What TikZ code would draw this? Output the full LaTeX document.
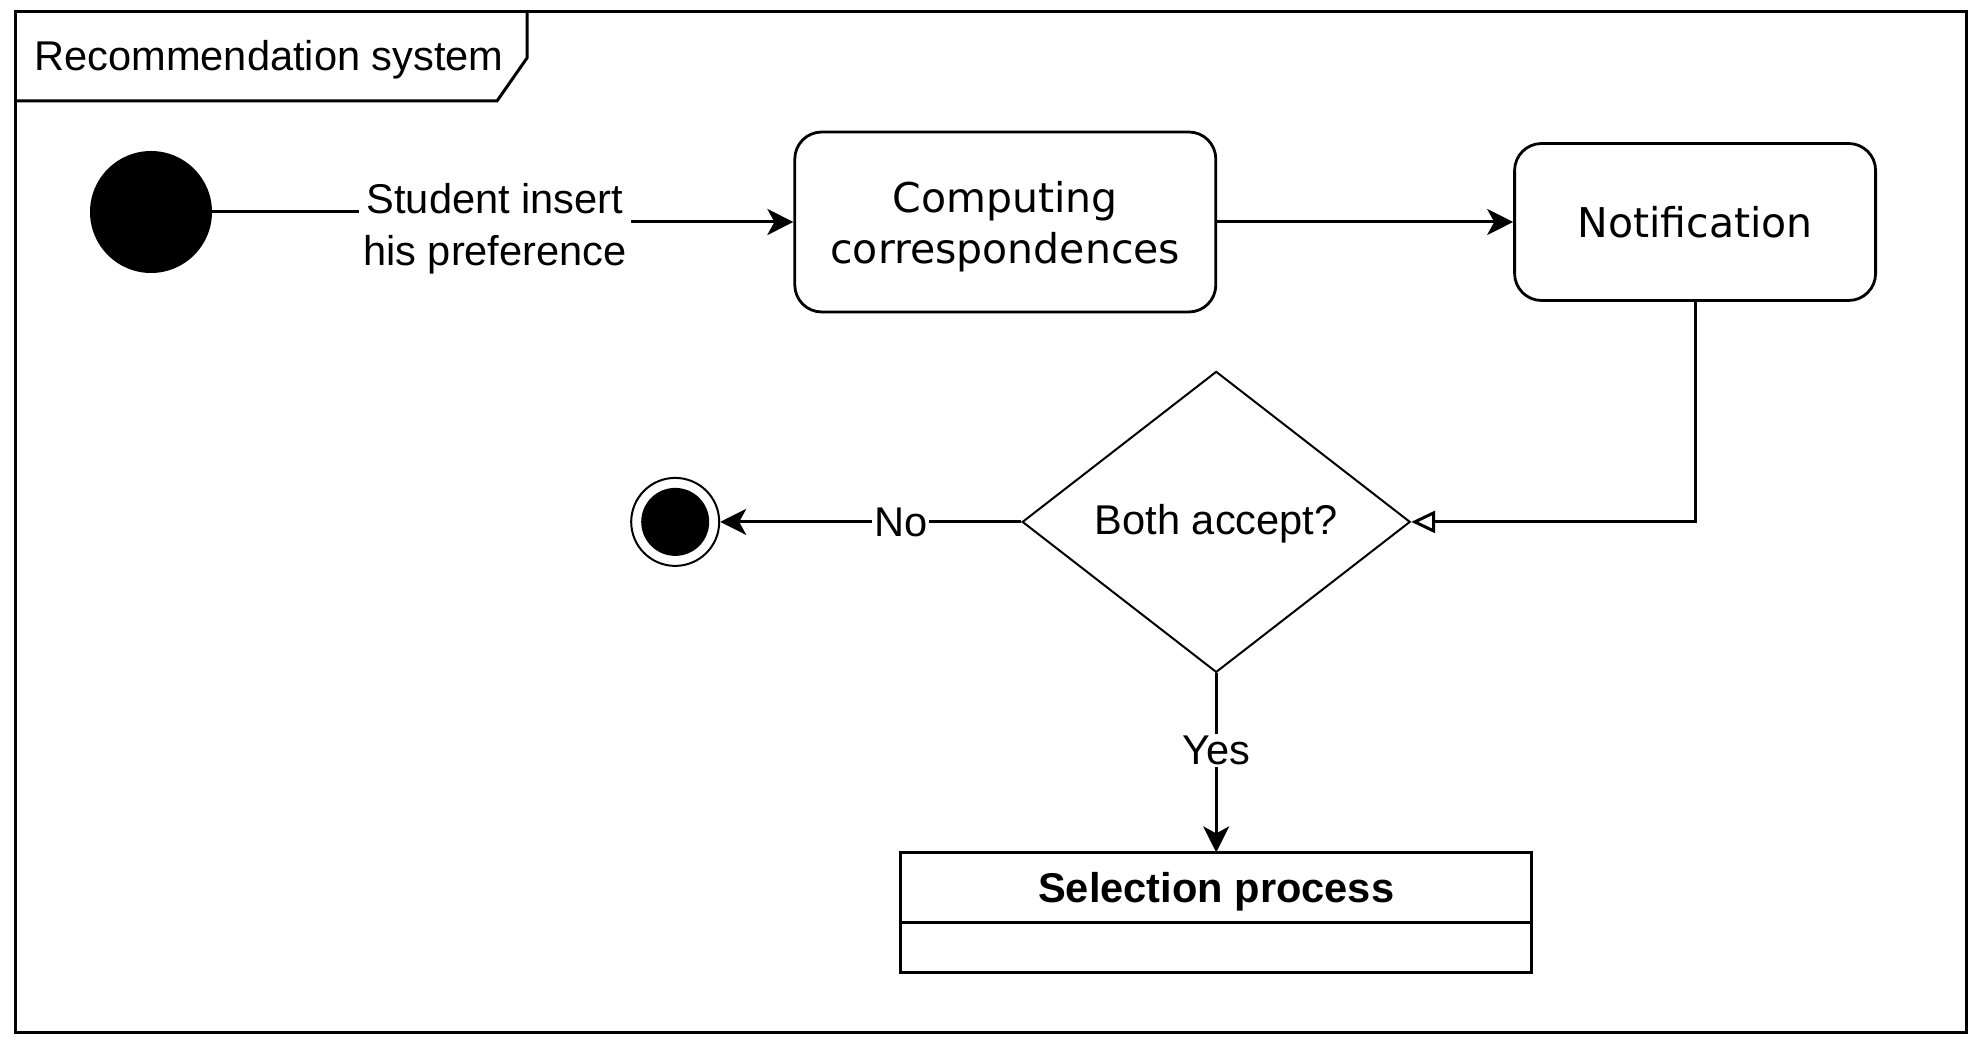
\documentclass[tikz,border=0pt]{standalone}
\usepackage{fontspec}
\setmainfont{Liberation Sans}
\newfontfamily\boxfont{DejaVu Sans}
\usepackage{tikz}
\usetikzlibrary{positioning}
\usetikzlibrary{arrows.meta,shapes.geometric}

\begin{document}
\begin{tikzpicture}[x=0.5pt,y=-0.5pt,
    font=\fontsize{20.8pt}{26pt}\selectfont,
    flow/.style={line width=1.5pt,-{Stealth[length=13pt,width=13pt,inset=3.5pt]}},
    activity/.style={draw,line width=1.4pt,rounded corners=13.5pt,align=center,
        font=\boxfont\fontsize{20.5pt}{25.5pt}\selectfont},
    lbl/.style={fill=white,inner sep=1pt,align=center}]
    \useasboundingbox (0,0) rectangle (1983,1047);
    %Frame
    \draw[line width=1.5pt] (15,12) rectangle (1966,1032);
    \draw[line width=1.5pt] (15,101) -- (497,101) -- (527,58) -- (527,12);
    \node(title)[anchor=base west,inner sep=0pt] at (34,71) {Recommendation system};
    %States
    \node(start)[circle,fill=black,minimum size=61pt,inner sep=0pt] at (151,212) {};
    \node(comp)[activity,minimum width=210.5pt,minimum height=90pt,text depth=0pt,
        right=290.5pt of start,yshift=-5pt] {Computing\\correspondences};
    \node(notif)[activity,minimum width=180.5pt,minimum height=78.5pt,right=148pt of comp] {Notification};
    \node(dec)[diamond,draw,line width=1pt,aspect=1.29,minimum width=194pt,minimum height=150.5pt,inner sep=0pt,
        text depth=2pt,below=28.5pt of comp.south east,xshift=-0.5pt] {Both accept?};
    \node(end)[circle,draw,line width=1pt,minimum size=44pt,inner sep=0pt,
        path picture={\fill (path picture bounding box.center) circle (17pt);},
        left=150.5pt of dec] {};
    \node(sel)[draw,line width=1.4pt,outer sep=0pt,inner sep=2pt,minimum width=315.5pt,minimum height=35pt,
        text depth=0pt,font=\bfseries\fontsize{20.8pt}{26pt}\selectfont,below=89.5pt of dec] {Selection process};
    \node(selbody)[draw,line width=1.4pt,outer sep=0pt,minimum width=315.5pt,minimum height=25pt,below=0pt of sel] {};
    %Lines
    \coordinate(kink) at (495,222);
    \draw[flow] (start) -- (start -| kink) -- (kink |- comp) -- (comp);
    \node(prefs)[lbl,inner sep=2pt,text depth=0pt,yshift=-1pt] at (kink) {Student insert\\his preference};
    \draw[flow] (comp) -- (notif);
    \draw[line width=1.5pt,-{Triangle[open,length=12pt,width=11pt,fill=white]}] (notif) |- (dec);
    \draw[flow] (dec) -- node[lbl,pos=0.4]{No} (end);
    \draw[flow] (dec) -- node[lbl,pos=0.43]{Yes} (sel);
\end{tikzpicture}
\end{document}
